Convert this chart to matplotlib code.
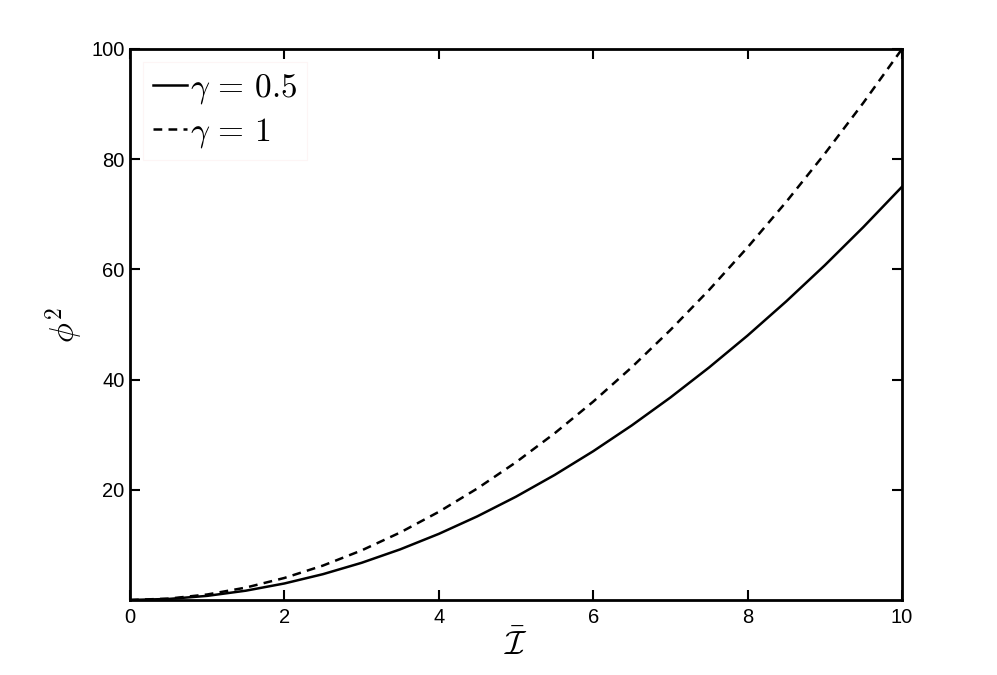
import numpy as np
import matplotlib
matplotlib.use("Agg")
import matplotlib.pyplot as plt

plt.rcParams['mathtext.fontset'] = 'cm'
plt.rcParams['font.family'] = ['Liberation Sans', 'DejaVu Sans']

x_vals = [0, 0.5, 1, 1.5, 2, 2.5, 3, 3.5, 4, 4.5, 5, 5.5, 6, 6.5, 7, 7.5, 8, 8.5, 9, 9.5, 10]
phi2_gamma_05 = [0, 0.19, 0.75, 1.69, 3.0, 4.69, 6.75, 9.19, 12.0, 15.19, 18.75,
                 22.69, 27.0, 31.69, 36.75, 42.19, 48.0, 54.19, 60.75, 67.69, 75.0]
phi2_gamma_1 = [0, 0.25, 1.0, 2.25, 4.0, 6.25, 9.0, 12.25, 16.0, 20.25, 25.0,
                30.25, 36.0, 42.25, 49.0, 56.25, 64.0, 72.25, 81.0, 90.25, 100.0]
labels = [r'$\gamma\,=\,0.5$', r'$\gamma\,=\,1$']
x_ticks = [0, 2, 4, 6, 8, 10]
y_ticks = [20, 40, 60, 80, 100]

fig = plt.figure(figsize=(9.97, 6.75), dpi=100)
ax = fig.add_axes([130/997, 75/675, (902-130)/997, (600-49)/675])

ax.plot(x_vals, phi2_gamma_05, color='black', lw=1.8, ls='-', label=labels[0])
ax.plot(x_vals, phi2_gamma_1, color='black', lw=1.8, ls=(0, (3.5, 2.5)), label=labels[1])

ax.set_xlim(0, 10)
ax.set_ylim(0, 100)
ax.set_xticks(x_ticks)
ax.set_yticks(y_ticks)
ax.tick_params(direction='in', length=7, width=1.5, labelsize=14.5, top=True, right=True)
ax.tick_params(axis='y', pad=4)
ax.tick_params(axis='x', pad=6)
for s in ax.spines.values():
    s.set_linewidth(2)

ax.set_xlabel(r'$\bar{\mathcal{I}}$', fontsize=24, labelpad=2)
ax.set_ylabel(r'$\phi^2$', fontsize=24, labelpad=4)

leg = ax.legend(loc='upper left', fontsize=24, handlelength=1.0, handletextpad=0.1,
                frameon=True, fancybox=False, edgecolor='#fdf5f5', framealpha=1,
                borderaxespad=0.4, borderpad=0.3, labelspacing=0.3)
leg.get_frame().set_linewidth(0.8)

fig.savefig('out.png', dpi=100)
